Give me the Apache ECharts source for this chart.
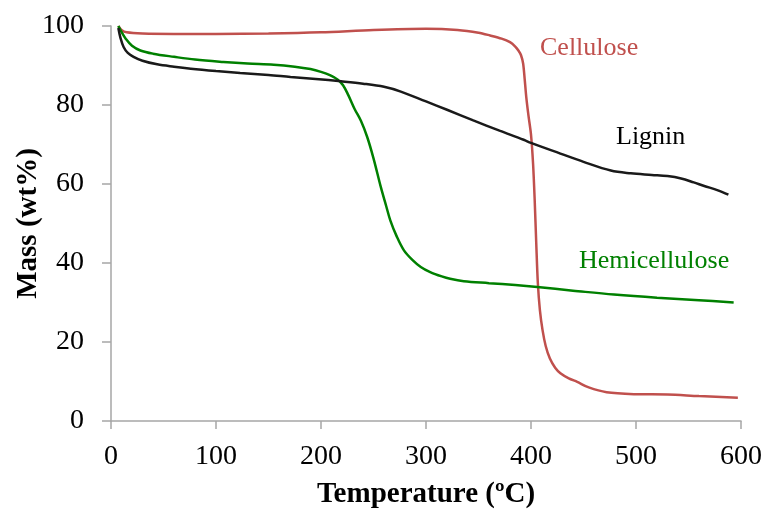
<!DOCTYPE html>
<html><head><meta charset="utf-8">
<script src="https://cdn.jsdelivr.net/npm/echarts@6/dist/echarts.min.js"></script>
<style>html,body{margin:0;padding:0;background:#fff}#c{width:766px;height:509px}</style>
</head><body><div id="c"></div>
<script>
// Temperature (°C) and mass (wt%)
const celluloseT = [7,10,15,30,60,100,150,200,250,300,330,350,361,372,380,385,388,390.5,392.5,394,395.5,397.5,400,402,403.5,405,406.5,408.5,411,414,418,423,428,436,444,455,472,498,530,560,597];
const celluloseM = [100,99,98.4,98.1,98.0,98.0,98.1,98.4,99.0,99.3,99.0,98.3,97.6,96.8,95.9,94.8,93.8,92.6,90.5,86.5,82,77.5,72.5,65,56,45,35,28,23,19,15.8,13.5,12.1,10.8,9.9,8.5,7.3,6.8,6.7,6.3,5.9];

const hemiT = [7,10,14,20,28,40,60,80,107,130,155,175,190,200,209,216,221,226,232,238,244,250,257,262,266,272,279,287,295,304,315,323,336,360,385,406,440,479,520,560,593];
const hemiM = [100,98.5,96.8,95.0,93.8,93.0,92.2,91.5,90.9,90.5,90.2,89.7,89.1,88.4,87.5,86.4,85.0,82.5,79.0,76.0,71.9,66.5,59.2,54.5,50.8,46.8,43.2,40.8,39.0,37.7,36.6,36.0,35.4,34.9,34.4,33.9,33.0,32.0,31.2,30.6,30.0];

const ligninT = [7,9,12,16,21.5,30,44,60,76,100,123,150,171,195,219,240,260,276,300,320,345,370,393,400,428,450,476,495,515,530,543,555,565,578,588];
const ligninM = [99.5,97,94.7,93.2,92.2,91.2,90.3,89.7,89.2,88.6,88.1,87.6,87.1,86.6,86.0,85.4,84.6,83.4,80.9,78.8,76.1,73.5,71.2,70.4,67.7,65.6,63.4,62.7,62.3,62.0,61.4,60.4,59.5,58.4,57.3];

const xTicks = [0,100,200,300,400,500,600];
const yTicks = [0,20,40,60,80,100];
const seriesNames = ['Cellulose','Hemicellulose','Lignin'];

const pair = (t, m) => t.map((v, i) => [v, m[i]]);
const FONT = '"Liberation Serif", "Times New Roman", serif';
const axisGray = '#a6a6a6';

const chart = echarts.init(document.getElementById('c'));
chart.setOption({
  animation: false,
  backgroundColor: '#fff',
  grid: { left: 111, right: 25, top: 26, bottom: 88, containLabel: false, outerBoundsMode: 'none' },
  xAxis: {
    type: 'value', min: xTicks[0], max: xTicks[xTicks.length-1], interval: 100,
    name: 'Temperature (ºC)', nameLocation: 'middle', nameGap: 59,
    nameTextStyle: { fontFamily: FONT, fontWeight: 'bold', fontSize: 29, color: '#000' },
    axisLine: { show: true, onZero: false, lineStyle: { color: axisGray, width: 1.5 } },
    axisTick: { show: true, inside: false, length: 8, lineStyle: { color: axisGray, width: 1.5 } },
    axisLabel: { margin: 22, fontFamily: FONT, fontSize: 28, color: '#000' },
    splitLine: { show: false }
  },
  yAxis: {
    type: 'value', min: yTicks[0], max: yTicks[yTicks.length-1], interval: 20,
    name: 'Mass (wt%)', nameLocation: 'middle', nameGap: 68, nameMoveOverlap: false,
    nameTextStyle: { fontFamily: FONT, fontWeight: 'bold', fontSize: 29, color: '#000' },
    axisLine: { show: true, lineStyle: { color: axisGray, width: 1.5 } },
    axisTick: { show: true, inside: false, length: 9, lineStyle: { color: axisGray, width: 1.5 } },
    axisLabel: { margin: 27, fontFamily: FONT, fontSize: 28, color: '#000' },
    splitLine: { show: false }
  },
  series: [
    { name: seriesNames[0], type: 'line', data: pair(celluloseT, celluloseM), showSymbol: false, smooth: 0.3,
      lineStyle: { color: '#c0504d', width: 2.5 } },
    { name: seriesNames[1], type: 'line', data: pair(hemiT, hemiM), showSymbol: false, smooth: 0.35,
      lineStyle: { color: '#008000', width: 2.5 } },
    { name: seriesNames[2], type: 'line', data: pair(ligninT, ligninM), showSymbol: false, smooth: 0.35,
      lineStyle: { color: '#1a1a1a', width: 2.5 } }
  ],
  graphic: [
    { type: 'text', left: 540, top: 35, style: { text: 'Cellulose', font: '26px ' + FONT, fill: '#c0504d' } },
    { type: 'text', left: 616, top: 124, style: { text: 'Lignin', font: '26px ' + FONT, fill: '#000' } },
    { type: 'text', left: 579, top: 248, style: { text: 'Hemicellulose', font: '26px ' + FONT, fill: '#008000' } }
  ]
});
</script></body></html>
